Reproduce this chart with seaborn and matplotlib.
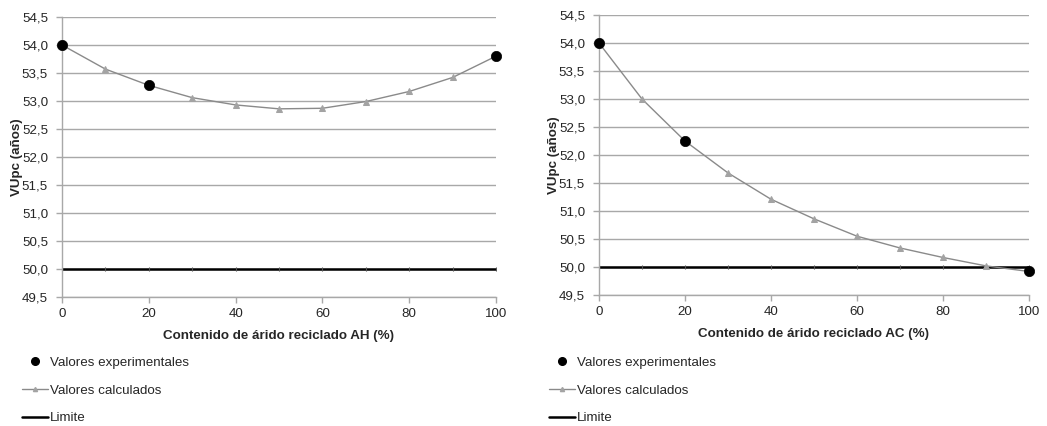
import matplotlib
matplotlib.use("Agg")
import matplotlib.pyplot as plt
import seaborn as sns
import pandas as pd
import numpy as np
from matplotlib.lines import Line2D

sns.set_style("white")
plt.rcParams['font.family'] = ['Liberation Sans', 'DejaVu Sans']

# Recycled aggregate content (%)
contenido = [0, 10, 20, 30, 40, 50, 60, 70, 80, 90, 100]

# Calculated service life, AH aggregate
calc_ah = [54.00, 53.57, 53.28, 53.06, 52.93, 52.86, 52.87, 52.99, 53.17, 53.42, 53.80]
# Calculated service life, AC aggregate
calc_ac = [54.00, 53.00, 52.25, 51.68, 51.21, 50.86, 50.55, 50.34, 50.17, 50.02, 49.92]

# Experimental points
exp_x = [0, 20, 100]
exp_ah = [54.00, 53.28, 53.80]
exp_ac = [54.00, 52.25, 49.92]

limite = 50.0

y_ticks = [49.5, 50.0, 50.5, 51.0, 51.5, 52.0, 52.5, 53.0, 53.5, 54.0, 54.5]
x_ticks = [0, 20, 40, 60, 80, 100]

GRID = "#a8a8a8"
CALC_LINE = "#8a8a8a"
CALC_MARK = "#a3a3a3"
FS = 9.6

fig = plt.figure(figsize=(10.47, 4.26), dpi=100)
ax1 = fig.add_axes([0.0592, 0.3028, 0.4145, 0.6573])
ax2 = fig.add_axes([0.5721, 0.3075, 0.4107, 0.6573])


def draw(ax, calc, exp_y, xlabel, legend_x):
    df_calc = pd.DataFrame({"x": contenido, "y": calc})
    df_exp = pd.DataFrame({"x": exp_x, "y": exp_y})
    df_lim = pd.DataFrame({"x": contenido, "y": [limite] * len(contenido)})

    for yt in y_ticks:
        ax.axhline(yt, color=GRID, lw=1.0, zorder=0)

    sns.lineplot(data=df_lim, x="x", y="y", ax=ax, color="black", lw=1.8,
                 marker="|", markersize=3, markeredgewidth=0.8,
                 markeredgecolor="#555555", zorder=2)
    sns.lineplot(data=df_calc, x="x", y="y", ax=ax, color=CALC_LINE, lw=1.0,
                 marker="^", markersize=4.5, markerfacecolor=CALC_MARK,
                 markeredgecolor=CALC_MARK, zorder=3)
    sns.scatterplot(data=df_exp, x="x", y="y", ax=ax, color="black", s=55,
                    edgecolor="black", linewidth=0.5, zorder=4, clip_on=False)

    ax.set_xlim(0, 100)
    ax.set_ylim(49.5, 54.5)
    ax.set_xticks(x_ticks)
    ax.set_xticklabels([str(v) for v in x_ticks], fontsize=FS)
    ax.set_yticks(y_ticks)
    ax.set_yticklabels([f"{v:.1f}".replace(".", ",") for v in y_ticks], fontsize=FS)
    ax.tick_params(axis="both", direction="out", length=4, width=1.0,
                   color=GRID, bottom=True, left=True)
    ax.tick_params(axis="y", pad=6)
    ax.tick_params(axis="x", pad=4)
    ax.set_xlabel(xlabel, fontsize=FS, fontweight="bold", labelpad=7)
    ax.set_ylabel("VUpc (años)", fontsize=FS, fontweight="bold", labelpad=-1)
    for s in ["top", "right"]:
        ax.spines[s].set_visible(False)
    for s in ["left", "bottom"]:
        ax.spines[s].set_color(GRID)
        ax.spines[s].set_linewidth(1.0)
    ax.grid(False)

    handles = [
        Line2D([], [], ls="none", marker="o", color="black", markersize=5.5),
        Line2D([], [], color=CALC_LINE, lw=1.0, marker="^", markersize=3,
               markerfacecolor=CALC_MARK, markeredgecolor=CALC_MARK),
        Line2D([], [], color="black", lw=1.8),
    ]
    labels = ["Valores experimentales", "Valores calculados", "Limite"]
    fig.legend(handles, labels, loc="upper left",
               bbox_to_anchor=(legend_x, 0.163), frameon=False,
               fontsize=FS, handlelength=1.95, handletextpad=0.15,
               labelspacing=1.15, borderpad=0, borderaxespad=0)
    if ax.get_legend() is not None:
        ax.get_legend().remove()


draw(ax1, calc_ah, exp_ah, "Contenido de árido reciclado AH (%)", 0.021)
draw(ax2, calc_ac, exp_ac, "Contenido de árido reciclado AC (%)", 0.5245)

fig.savefig("out.png", dpi=100)
